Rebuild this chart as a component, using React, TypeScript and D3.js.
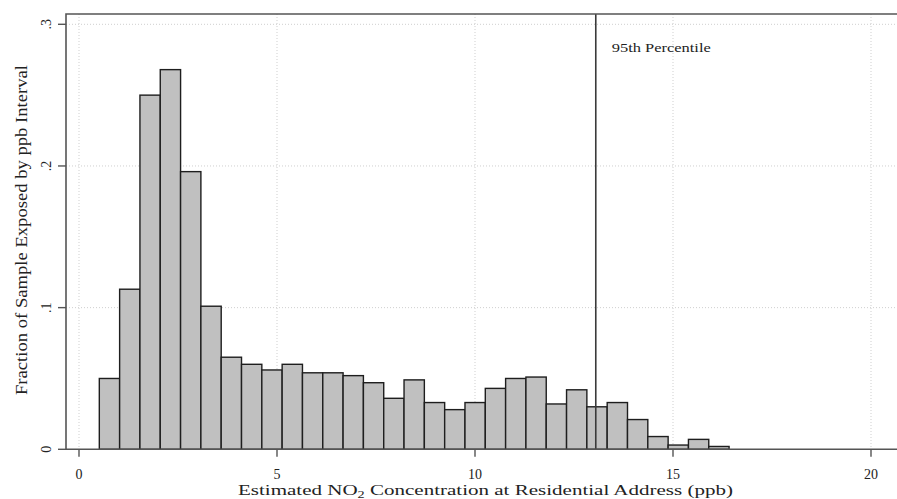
import React, { useEffect, useRef } from "react";
import * as d3 from "d3";

// histogram bins (ppb)
const binStart = 0.513;
const binWidth = 0.513;
const fractions = [
  0.05, 0.113, 0.25, 0.268, 0.196, 0.101, 0.065, 0.06, 0.056, 0.06, 0.054,
  0.054, 0.052, 0.047, 0.036, 0.049, 0.033, 0.028, 0.033, 0.043, 0.05, 0.051,
  0.032, 0.042, 0.03, 0.033, 0.021, 0.009, 0.003, 0.007, 0.002,
];
const xTicks = [0, 5, 10, 15, 20];
const yTicks = [0, 0.1, 0.2, 0.3];
const yTickLabels = ["0", ".1", ".2", ".3"];
const percentile95 = 13.05;
const percentileLabel = "95th Percentile";

const W = 897;
const H = 499;
const FONT = "'Liberation Serif', 'DejaVu Serif', serif";

export default function App() {
  const ref = useRef<SVGSVGElement>(null);

  useEffect(() => {
    const svg = d3.select(ref.current);
    svg.selectAll("*").remove();

    const frameLeft = 66,
      frameTop = 14,
      frameRight = 910;
    const x = d3.scaleLinear().domain([0, 20]).range([79, 871]);
    const y = d3.scaleLinear().domain([0, 0.3]).range([449.3, 24.3]);
    const base = y(0);

    // dotted grid
    svg
      .append("g")
      .selectAll("line")
      .data(xTicks)
      .enter()
      .append("line")
      .attr("x1", (d) => x(d))
      .attr("x2", (d) => x(d))
      .attr("y1", frameTop)
      .attr("y2", base)
      .attr("stroke", "#cfcfcf")
      .attr("stroke-width", 1)
      .attr("stroke-dasharray", "1 2");
    svg
      .append("g")
      .selectAll("line")
      .data(yTicks.filter((d) => d > 0))
      .enter()
      .append("line")
      .attr("x1", frameLeft)
      .attr("x2", frameRight)
      .attr("y1", (d) => y(d))
      .attr("y2", (d) => y(d))
      .attr("stroke", "#cfcfcf")
      .attr("stroke-width", 1)
      .attr("stroke-dasharray", "1 2");

    // bars
    svg
      .append("g")
      .selectAll("rect")
      .data(fractions)
      .enter()
      .append("rect")
      .attr("x", (d, i) => x(binStart + i * binWidth))
      .attr("width", (d, i) => x(binStart + (i + 1) * binWidth) - x(binStart + i * binWidth))
      .attr("y", (d) => y(d))
      .attr("height", (d) => base - y(d))
      .attr("fill", "#c0c0c0")
      .attr("stroke", "#1e1e1e")
      .attr("stroke-width", 1.4);

    // percentile line
    svg
      .append("line")
      .attr("x1", x(percentile95))
      .attr("x2", x(percentile95))
      .attr("y1", frameTop)
      .attr("y2", base)
      .attr("stroke", "#3a3a3a")
      .attr("stroke-width", 1.6);
    svg
      .append("text")
      .attr("x", x(percentile95) + 16)
      .attr("y", 51.5)
      .attr("font-family", FONT)
      .attr("font-size", 11.5)
      .attr("fill", "#222")
      .attr("textLength", 99)
      .attr("lengthAdjust", "spacingAndGlyphs")
      .text(percentileLabel);

    // frame
    svg
      .append("path")
      .attr("d", `M${frameRight},${frameTop}H${frameLeft}V${base}H${frameRight}`)
      .attr("fill", "none")
      .attr("stroke", "#555")
      .attr("stroke-width", 1.6);

    // x axis ticks
    const xg = svg.append("g");
    xTicks.forEach((t) => {
      xg.append("line")
        .attr("x1", x(t))
        .attr("x2", x(t))
        .attr("y1", base)
        .attr("y2", base + 7.5)
        .attr("stroke", "#555")
        .attr("stroke-width", 1.4);
      xg.append("text")
        .attr("x", x(t))
        .attr("y", 479)
        .attr("text-anchor", "middle")
        .attr("font-family", FONT)
        .attr("font-size", 14)
        .attr("fill", "#222")
        .text(String(t));
    });

    // y axis ticks
    const yg = svg.append("g");
    yTicks.forEach((t, i) => {
      yg.append("line")
        .attr("x1", frameLeft - 8)
        .attr("x2", frameLeft)
        .attr("y1", y(t))
        .attr("y2", y(t))
        .attr("stroke", "#555")
        .attr("stroke-width", 1.4);
      yg.append("text")
        .attr("transform", `translate(50.5,${y(t)}) rotate(-90)`)
        .attr("text-anchor", "middle")
        .attr("font-family", FONT)
        .attr("font-size", 14)
        .attr("fill", "#222")
        .text(yTickLabels[i]);
    });

    // axis titles
    svg
      .append("text")
      .attr("transform", `translate(26.5,230) rotate(-90)`)
      .attr("text-anchor", "middle")
      .attr("font-family", FONT)
      .attr("font-size", 16)
      .attr("fill", "#222")
      .attr("textLength", 330)
      .attr("lengthAdjust", "spacingAndGlyphs")
      .text("Fraction of Sample Exposed by ppb Interval");

    const xt = svg
      .append("text")
      .attr("x", 238)
      .attr("y", 494.5)
      .attr("font-family", FONT)
      .attr("font-size", 15.5)
      .attr("fill", "#222")
      .attr("textLength", 495)
      .attr("lengthAdjust", "spacingAndGlyphs");
    xt.append("tspan").text("Estimated NO");
    xt.append("tspan").attr("dy", 3.5).attr("font-size", 10.5).text("2");
    xt.append("tspan").attr("dy", -3.5).text(" Concentration at Residential Address (ppb)");
  }, []);

  return (
    <svg
      ref={ref}
      width={W}
      height={H}
      style={{ position: "absolute", left: 0, top: 0, background: "#fff" }}
    />
  );
}
